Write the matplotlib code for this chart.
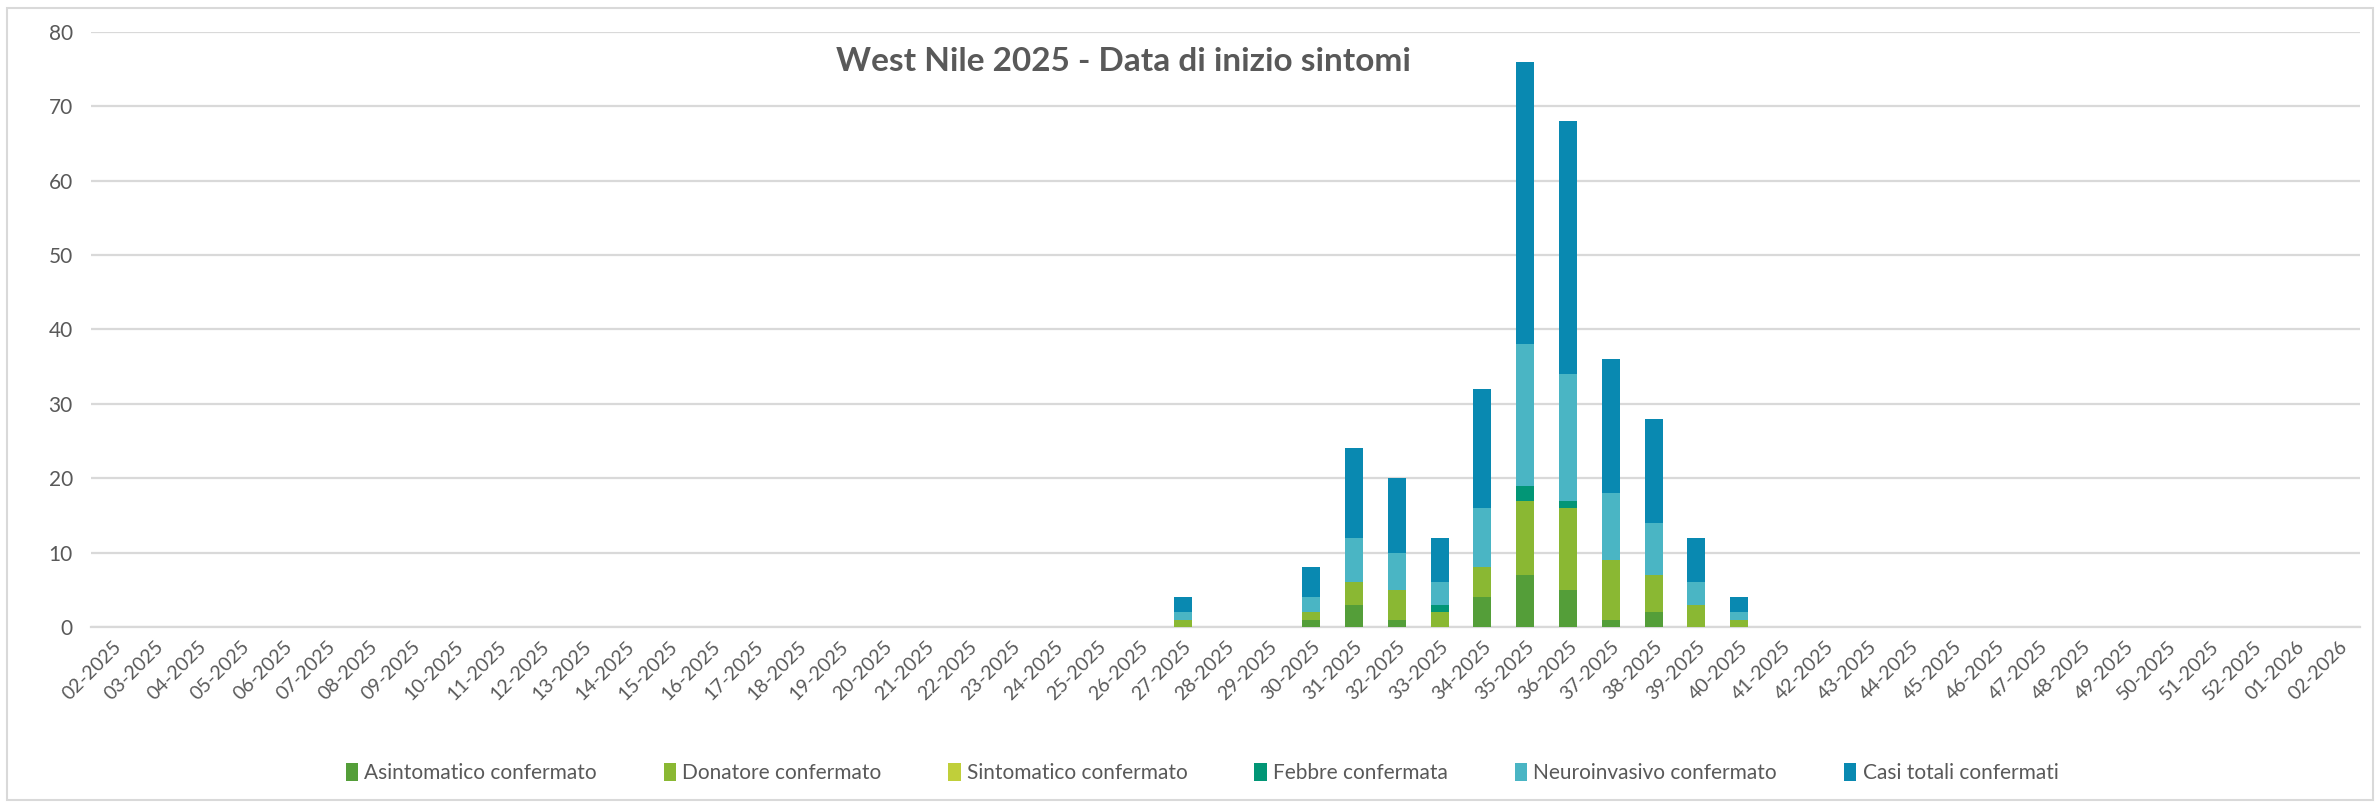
import matplotlib
matplotlib.use("Agg")
from matplotlib import pyplot as plt
from matplotlib.patches import Rectangle
import numpy as np

plt.rcParams['font.family'] = ['Lato', 'DejaVu Sans']

weeks = ['02-2025', '03-2025', '04-2025', '05-2025', '06-2025', '07-2025', '08-2025', '09-2025',
         '10-2025', '11-2025', '12-2025', '13-2025', '14-2025', '15-2025', '16-2025', '17-2025',
         '18-2025', '19-2025', '20-2025', '21-2025', '22-2025', '23-2025', '24-2025', '25-2025',
         '26-2025', '27-2025', '28-2025', '29-2025', '30-2025', '31-2025', '32-2025', '33-2025',
         '34-2025', '35-2025', '36-2025', '37-2025', '38-2025', '39-2025', '40-2025', '41-2025',
         '42-2025', '43-2025', '44-2025', '45-2025', '46-2025', '47-2025', '48-2025', '49-2025',
         '50-2025', '51-2025', '52-2025', '01-2026', '02-2026']

# weeks 02-26 are all zero, then 27..40, then 41-2025..02-2026 zero
asintomatico = [0]*25 + [0, 0, 0, 1, 3, 1, 0, 4, 7, 5, 1, 2, 0, 0] + [0]*14
donatore     = [0]*25 + [1, 0, 0, 1, 3, 4, 2, 4, 10, 11, 8, 5, 3, 1] + [0]*14
sintomatico  = [0]*25 + [0, 0, 0, 0, 0, 0, 0, 0, 0, 0, 0, 0, 0, 0] + [0]*14
febbre       = [0]*25 + [0, 0, 0, 0, 0, 0, 1, 0, 2, 1, 0, 0, 0, 0] + [0]*14
neuroinvasivo = [0]*25 + [1, 0, 0, 2, 6, 5, 3, 8, 19, 17, 9, 7, 3, 1] + [0]*14
casi_totali  = [0]*25 + [2, 0, 0, 4, 12, 10, 6, 16, 38, 34, 18, 14, 6, 2] + [0]*14

series = [asintomatico, donatore, sintomatico, febbre, neuroinvasivo, casi_totali]
labels = ['Asintomatico confermato', 'Donatore confermato', 'Sintomatico confermato',
          'Febbre confermata', 'Neuroinvasivo confermato', 'Casi totali confermati']
colors = ['#549E39', '#8AB833', '#C0CF3A', '#029676', '#4AB5C4', '#0989B1']
txt = '#595959'

fig = plt.figure(figsize=(23.8, 8.08), dpi=100)
ax = fig.add_axes([0.0382, 0.224, 0.9534, 0.7366])

x = np.arange(len(weeks))
bottom = np.zeros(len(weeks))
for vals, lab, col in zip(series, labels, colors):
    v = np.array(vals, dtype=float)
    ax.bar(x, v, width=0.42, bottom=bottom, color=col, label=lab, linewidth=0, zorder=3)
    bottom += v

ax.set_xlim(-0.5, len(weeks) - 0.5)
ax.set_ylim(0, 80)
ax.set_yticks(range(0, 81, 10))
ax.yaxis.grid(True, color='#D9D9D9', linewidth=1.6, zorder=0)
ax.set_axisbelow(True)
for s in ['top', 'right', 'left']:
    ax.spines[s].set_visible(False)
ax.spines['bottom'].set_color('#D9D9D9')
ax.spines['bottom'].set_linewidth(1.6)
ax.set_xticks(x)
ax.set_xticklabels(weeks, rotation=45, ha='right', rotation_mode='anchor')
ax.tick_params(axis='x', length=0, labelsize=14, colors=txt, pad=8)
ax.tick_params(axis='y', length=0, labelsize=15, colors=txt, pad=13)

fig.text(0.472, 0.924, 'West Nile 2025 - Data di inizio sintomi', ha='center', va='center',
         fontsize=24, fontweight='bold', color=txt)

fig.legend(loc='center', bbox_to_anchor=(0.505, 0.043), ncol=6, frameon=False,
           fontsize=15, labelcolor=txt, handlelength=0.6, handleheight=0.9,
           handletextpad=0.3, columnspacing=3.2)

fig.patches.append(Rectangle((0.003, 0.01), 0.994, 0.98, transform=fig.transFigure,
                             fill=False, edgecolor='#D9D9D9', linewidth=1.5))

fig.savefig('out.png', dpi=100)
